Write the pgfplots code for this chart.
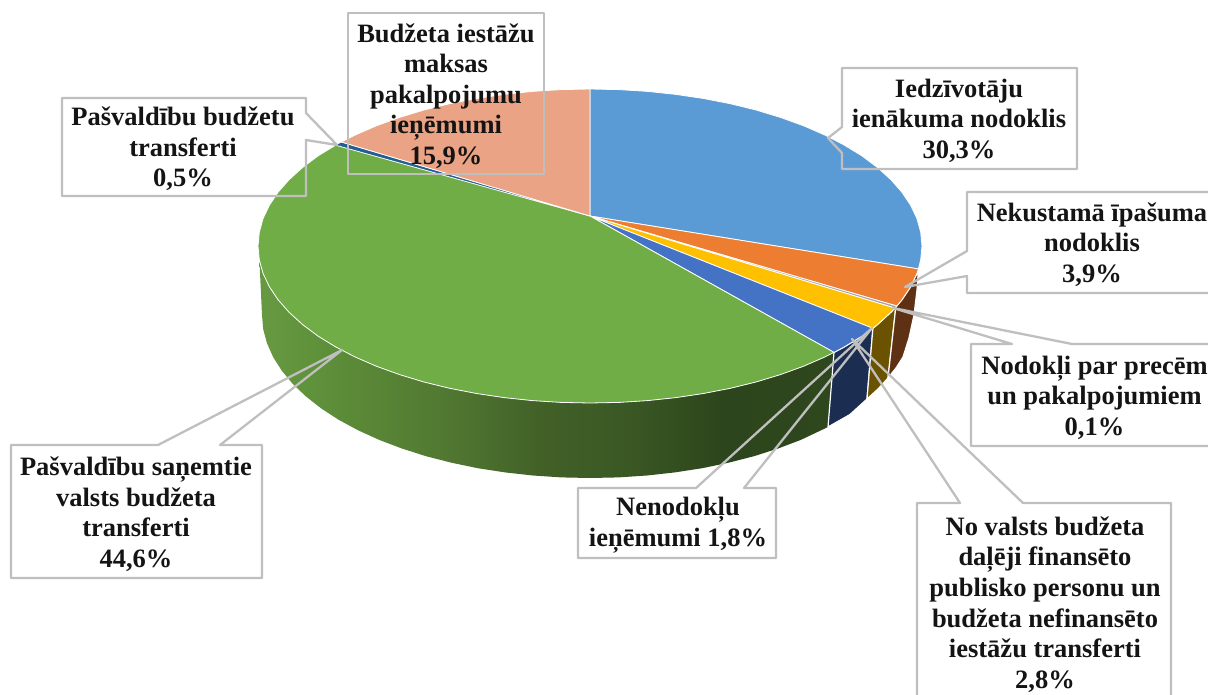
\documentclass[border=0pt]{standalone}
\usepackage{pgfplots}
\pgfplotsset{compat=1.18}
\usepackage{fontspec}
\setmainfont{Liberation Serif}
\definecolor{gA}{RGB}{101,152,64}
\definecolor{gB}{RGB}{92,140,56}
\definecolor{gC}{RGB}{82,122,50}
\definecolor{gD}{RGB}{66,97,40}
\definecolor{gE}{RGB}{58,88,36}
\definecolor{gF}{RGB}{45,69,28}
\definecolor{gG}{RGB}{46,71,29}
\pgfdeclarehorizontalshading{greenside}{100bp}{
 color(0bp)=(gA);
 color(26bp)=(gA);
 color(32bp)=(gB);
 color(40.5bp)=(gC);
 color(49.3bp)=(gD);
 color(57bp)=(gE);
 color(65.3bp)=(gF);
 color(75bp)=(gG);
 color(100bp)=(gG)}
\definecolor{cBlue}{HTML}{5B9BD5}
\definecolor{cOrange}{HTML}{ED7D31}
\definecolor{cYellow}{HTML}{FFC000}
\definecolor{cDBlue}{HTML}{4472C4}
\definecolor{cGreen}{HTML}{70AD47}
\definecolor{cTeal}{HTML}{255E91}
\definecolor{cPeach}{HTML}{EAA385}
\definecolor{cGrey}{HTML}{BFBFBF}
\definecolor{cBrown}{HTML}{5F3114}
\definecolor{cGold}{HTML}{6A5200}
\definecolor{cNavy}{HTML}{1B2E52}
\definecolor{cSliver}{HTML}{A5A5A5}
\tikzset{lab/.style={align=center,inner sep=0pt,text=black!92,font=\fontsize{26.5}{30.6}\selectfont\bfseries}}
\begin{document}
\begin{tikzpicture}
\useasboundingbox (0,0) rectangle (1208pt,694pt);
\clip (0,0) rectangle (1208pt,694pt);
\begin{axis}[
  at={(0,0)},anchor=south west,
  scale only axis,width=1208pt,height=694pt,
  xmin=0,xmax=1208,ymin=0,ymax=694,y dir=reverse,
  hide axis,clip=false,
  every axis plot/.append style={line join=round}
]
% side faces
\addplot[shading=greenside,draw=none] coordinates {
(834,352.4)(824.8,357)(803.4,366.3)(780.4,374.6)(756,382)(730.3,388.3)(703.5,393.5)(675.9,397.6)(647.6,400.6)(619,402.4)(590,403)(561,402.4)(532.4,400.6)(504.1,397.6)(476.5,393.5)(449.7,388.3)(424,382)(399.6,374.6)(376.6,366.3)(355.2,357)(335.7,346.9)(318,336.1)(302.5,324.5)(289.1,312.3)(278,299.7)(269.3,286.6)(263,273.3)(259.5,262)
(262,315)(263.2,329.2)(267,343.3)(273.2,357.2)(281.8,370.7)(292.7,383.9)(306,396.5)(321.3,408.5)(338.7,419.8)(358.1,430.3)(379.2,439.9)(401.9,448.5)(426,456.2)(451.4,462.7)(477.8,468.2)(505.1,472.4)(533,475.5)(561.4,477.4)(590,478)(618.6,477.4)(647,475.5)(674.9,472.4)(702.2,468.2)(728.6,462.7)(754,456.2)(778.1,448.5)(800.8,439.9)(828,427)} --cycle;
\addplot[fill=cNavy,draw=white,line width=1.2pt] coordinates {
(872.9,328.3)(862,336.1)(844.3,346.9)(834,352.4)(828,427)(850,414.5)(867,399)} --cycle;
\addplot[fill=cGold,draw=white,line width=1.2pt] coordinates {
(895.8,307.1)(890.9,312.3)(877.5,324.5)(872.9,328.3)(867,399)(878,389)(888,378)} --cycle;
\addplot[fill=cBrown,draw=white,line width=1.2pt] coordinates {
(918.4,268.9)(917,273.3)(910.7,286.6)(902,299.7)(895.8,307.1)(888,378)(896,368)(903,357)(909,338)(914,315)(917,290)} --cycle;
% top surface
\addplot[fill=cBlue,draw=white,line width=0.8pt] coordinates {
(590,216)(590,89)(619,89.6)(647.6,91.4)(675.9,94.4)(703.5,98.5)(730.3,103.7)(756,110)(780.4,117.4)(803.4,125.7)(824.8,135)(844.3,145.1)(862,155.9)(877.5,167.5)(890.9,179.7)(902,192.3)(910.7,205.4)(917,218.7)(920.7,232.3)(922,246)(920.7,259.7)(918.4,268.9)} --cycle;
\addplot[fill=cOrange,draw=white,line width=0.8pt] coordinates {
(590,216)(918.4,268.9)(917,273.3)(910.7,286.6)(902,299.7)(896.8,306)} --cycle;
\addplot[fill=cSliver,draw=white,line width=0.8pt] coordinates {
(590,216)(896.8,306)(895,308.1)} --cycle;
\addplot[fill=cYellow,draw=white,line width=0.8pt] coordinates {
(590,216)(895,308.1)(890.9,312.3)(877.5,324.5)(872.9,328.3)} --cycle;
\addplot[fill=cDBlue,draw=white,line width=0.8pt] coordinates {
(590,216)(872.9,328.3)(862,336.1)(844.3,346.9)(834,352.4)} --cycle;
\addplot[fill=cGreen,draw=white,line width=0.8pt] coordinates {
(590,216)(834,352.4)(824.8,357)(803.4,366.3)(780.4,374.6)(756,382)(730.3,388.3)(703.5,393.5)(675.9,397.6)(647.6,400.6)(619,402.4)(590,403)(561,402.4)(532.4,400.6)(504.1,397.6)(476.5,393.5)(449.7,388.3)(424,382)(399.6,374.6)(376.6,366.3)(355.2,357)(335.7,346.9)(318,336.1)(302.5,324.5)(289.1,312.3)(278,299.7)(269.3,286.6)(263,273.3)(259.3,259.7)(258,246)(259.3,232.3)(263,218.7)(269.3,205.4)(278,192.3)(289.1,179.7)(302.5,167.5)(318,155.9)(335.7,145.1)} --cycle;
\addplot[fill=cTeal,draw=white,line width=0.6pt] coordinates {
(590,216)(335.7,145.1)(341.3,142)} --cycle;
\addplot[fill=cPeach,draw=white,line width=0.8pt] coordinates {
(590,216)(341.3,142)(355.2,135)(376.6,125.7)(399.6,117.4)(424,110)(449.7,103.7)(476.5,98.5)(504.1,94.4)(532.4,91.4)(561,89.6)(590,89)} --cycle;
% callouts
\addplot[draw=cGrey,line width=2.3pt] coordinates {(842,68)(1077,68)(1077,169)(842,169)(842,153)(828,138)(842,127)} --cycle;
\addplot[draw=cGrey,line width=2.3pt] coordinates {(967,192)(1230,192)(1230,293)(967,293)(967,276)(905,287)(967,251)} --cycle;
\addplot[draw=cGrey,line width=2.3pt] coordinates {(971,344)(1012,344)(893,308)(1072,344)(1230,344)(1230,446)(971,446)} --cycle;
\addplot[draw=cGrey,line width=2.3pt] coordinates {(917,503)(960,503)(852,339)(1023,503)(1171,503)(1171,720)(917,720)} --cycle;
\addplot[draw=cGrey,line width=2.3pt] coordinates {(578,488)(696,488)(872,328)(744,488)(776,488)(776,558)(578,558)} --cycle;
\addplot[draw=cGrey,line width=2.3pt] coordinates {(11,445)(158,445)(342,350)(220,445)(262,445)(262,578)(11,578)} --cycle;
\addplot[draw=cGrey,line width=2.3pt] coordinates {(62,98)(306,98)(306,113)(337,145)(306,140)(306,196)(62,196)} --cycle;
\addplot[draw=cGrey,line width=2.3pt] coordinates {(348,13)(544,13)(544,174)(348,174)} --cycle;
% labels
\node[lab] at (axis cs:959,120.5) {Iedzīvotāju\\ienākuma nodoklis\\30,3\%};
\node[lab] at (axis cs:1092,244.5) {Nekustamā īpašuma\\nodoklis\\3,9\%};
\node[lab] at (axis cs:1094.5,397.5) {Nodokļi par precēm\\un pakalpojumiem\\0,1\%};
\node[lab] at (axis cs:1045,604.5) {No valsts budžeta\\daļēji finansēto\\publisko personu un\\budžeta nefinansēto\\iestāžu transferti\\2,8\%};
\node[lab] at (axis cs:678,525) {Nenodokļu\\ieņēmumi 1,8\%};
\node[lab] at (axis cs:136,514) {Pašvaldību saņemtie\\valsts budžeta\\transferti\\44,6\%};
\node[lab] at (axis cs:183,149) {Pašvaldību budžetu\\transferti\\0,5\%};
\node[lab] at (axis cs:446,96) {Budžeta iestāžu\\maksas\\pakalpojumu\\ieņēmumi\\15,9\%};
\end{axis}
\end{tikzpicture}
\end{document}
